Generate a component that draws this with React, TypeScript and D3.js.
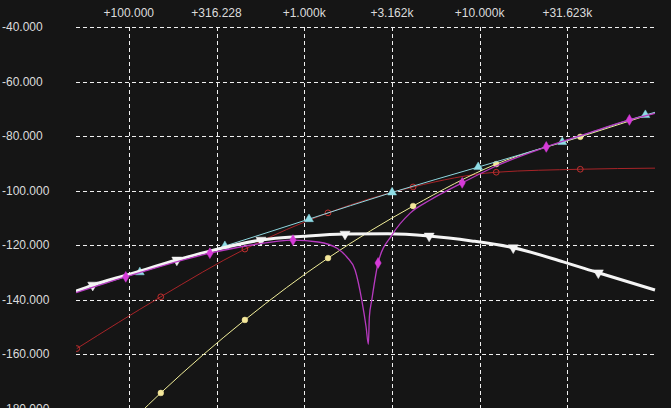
import * as React from "react";
import * as d3 from "d3";

// axis ticks
const freqTicks = [100, 316.228, 1000, 3162.28, 10000, 31623];
const freqTickLabels = ["+100.000", "+316.228", "+1.000k", "+3.162k", "+10.000k", "+31.623k"];
const dbTicks = [-40, -60, -80, -100, -120, -140, -160, -180];
const dbTickLabels = ["-40.000", "-60.000", "-80.000", "-100.000", "-120.000", "-140.000", "-160.000", "-180.000"];

// white (thick) curve
const whiteFreq = [50, 62.3, 100, 187.9, 300, 567, 1000, 1709, 3000, 5157, 9000, 15550, 30000, 47530, 100000];
const whiteDb = [-136.9, -134.7, -130.8, -125.5, -122.0, -118.2, -116.8, -116.0, -115.9, -116.7, -118.5, -121.0, -126.2, -130.2, -136.5];
const whiteMarks = [1, 3, 5, 7, 9, 11, 13];

// cyan
const cyanFreq = [50, 115.6, 353, 1065, 3170, 9817, 29610, 88120, 100000];
const cyanDb = [-137.3, -130.0, -120.4, -110.5, -100.7, -91.4, -82.2, -72.3, -71.3];
const cyanMarks = [1, 2, 3, 4, 5, 6, 7];

// magenta (with notch)
const magentaFreq = [50, 96.1, 290, 500, 863, 1200, 1539, 1755, 1950, 2129, 2253, 2322, 2353, 2428, 2638, 3170, 4018, 5224, 7957, 12440, 23990, 40000, 71450, 100000];
const magentaDb = [-137.5, -131.7, -123.0, -120.0, -118.2, -118.9, -121.2, -124.5, -129.2, -140.2, -150.0, -156.5, -146.3, -140.2, -126.6, -116.3, -108.3, -103.5, -97.2, -91.0, -84.0, -79.3, -74.1, -71.7];
const magentaMarks = [1, 2, 4, 14, 18, 20, 22];

// red
const redFreq = [50.5, 152.2, 459, 1367, 4178, 12440, 37500, 100000];
const redDb = [-158.0, -139.0, -121.5, -108.2, -98.7, -93.3, -92.2, -91.8];
const redMarks = [0, 1, 2, 3, 4, 5, 6];

// yellow
const yellowFreq = [110, 152.2, 459, 1367, 4178, 12440, 37500, 100000];
const yellowDb = [-183.0, -174.3, -147.5, -124.8, -105.7, -90.3, -80.3, -71.5];
const yellowMarks = [1, 2, 3, 4, 5, 6];

interface Series {
    name: string,
    freq: number[],
    db: number[],
    marks: number[],
    color: string,
    width: number,
    marker: string,
    markerColor: string,
    hollow?: boolean
}

const series: Series[] = [
    { name: "red", freq: redFreq, db: redDb, marks: redMarks, color: "#a82428", width: 1, marker: "circle", markerColor: "#c0302f", hollow: true },
    { name: "yellow", freq: yellowFreq, db: yellowDb, marks: yellowMarks, color: "#f2ef9a", width: 1, marker: "circle", markerColor: "#f4e79a" },
    { name: "cyan", freq: cyanFreq, db: cyanDb, marks: cyanMarks, color: "#8fd8e0", width: 1, marker: "triangle", markerColor: "#8fdde6" },
    { name: "white", freq: whiteFreq, db: whiteDb, marks: whiteMarks, color: "#f4f4f4", width: 3, marker: "down", markerColor: "#f4f4f4" },
    { name: "magenta", freq: magentaFreq, db: magentaDb, marks: magentaMarks, color: "#b73ac0", width: 1.3, marker: "diamond", markerColor: "#d63ad8" },
];

const W = 671;
const H = 408;
const margin = { left: 76, top: 27, right: 16 };

export default function App() {
    const x = d3.scaleLog().domain([50, 100000]).range([margin.left, W - margin.right]);
    const y = d3.scaleLinear().domain([-40, -180]).range([margin.top, 408.5]);

    const line = d3.line<[number, number]>()
        .x(d => x(d[0]))
        .y(d => y(d[1]))
        .curve(d3.curveMonotoneX);

    const markerPath = (kind: string) => {
        if (kind === "circle") return d3.symbol().type(d3.symbolCircle).size(26)()!;
        if (kind === "triangle") return d3.symbol().type(d3.symbolTriangle).size(34)()!;
        if (kind === "diamond") return d3.symbol().type(d3.symbolDiamond).size(34)()!;
        return d3.symbol().type(d3.symbolTriangle).size(44)()!;
    };

    const x0 = x.range()[0], x1 = x.range()[1];

    return (
        <svg width={W} height={H} style={{ position: "absolute", left: 0, top: 0, background: "#151515" }}
            fontFamily="'Liberation Sans', Arial, sans-serif">
            <defs>
                <clipPath id="plot">
                    <rect x={x0} y={0} width={x1 - x0 + 2} height={H} />
                </clipPath>
            </defs>
            <rect x={0} y={0} width={W} height={H} fill="#151515" />

            {/* grid */}
            <g stroke="#f0f0f0" strokeWidth={1} strokeDasharray="4,3" shapeRendering="crispEdges">
                {dbTicks.map(t => (
                    <line key={"h" + t} x1={x0} x2={x1} y1={Math.round(y(t)) + 0.5} y2={Math.round(y(t)) + 0.5} />
                ))}
                {freqTicks.map(t => (
                    <line key={"v" + t} x1={Math.round(x(t)) + 0.5} x2={Math.round(x(t)) + 0.5} y1={y(-40)} y2={H} />
                ))}
            </g>

            {/* tick labels */}
            <g fill="#dcdcdc" fontSize={12}>
                {freqTicks.map((t, i) => (
                    <text key={"xl" + t} x={x(t)} y={17} textAnchor="middle">{freqTickLabels[i]}</text>
                ))}
                {dbTicks.map((t, i) => (
                    <text key={"yl" + t} x={2} y={y(t)} dy="0.35em">{dbTickLabels[i]}</text>
                ))}
            </g>

            {/* series */}
            <g clipPath="url(#plot)">
                {series.map(s => {
                    const pts: [number, number][] = s.freq.map((f, i) => [f, s.db[i]]);
                    return (
                        <g key={s.name}>
                            <path d={line(pts)!} fill="none" stroke={s.color} strokeWidth={s.width} strokeLinejoin="round" />
                            {s.marks.map(i => (
                                <path key={i}
                                    d={markerPath(s.marker)}
                                    transform={"translate(" + x(s.freq[i]) + "," + y(s.db[i]) + ")" + (s.marker === "down" ? " rotate(180)" : "")}
                                    fill={s.hollow ? "none" : s.markerColor}
                                    stroke={s.markerColor}
                                    strokeWidth={s.hollow ? 1 : 0.5} />
                            ))}
                        </g>
                    );
                })}
            </g>
        </svg>
    );
}
